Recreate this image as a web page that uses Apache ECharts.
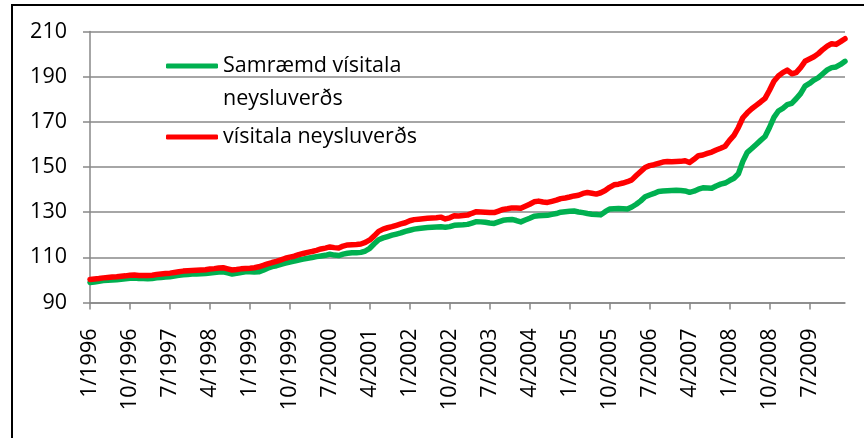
<!DOCTYPE html>
<html>
<head>
<meta charset="utf-8">
<title>Vísitala neysluverðs</title>
<script src="https://cdn.jsdelivr.net/npm/echarts@6.0.0/dist/echarts.min.js"></script>
<style>
  html, body { margin: 0; padding: 0; background: #fff; }
  #chart { width: 864px; height: 438px; }
</style>
</head>
<body>
<div id="chart"></div>
<script>
// mánaðarleg gögn 1/1996 - 3/2010
var startYear = 1996;
var endYear = 2010;
var endMonth = 3;

var seriesNames = ['Samræmd vísitala neysluverðs', 'vísitala neysluverðs'];

// Samræmd vísitala neysluverðs (grænt)
var hicp = [
  98.9, 99.1, 99.4, 99.7, 99.9, 100.0, 100.1, 100.3, 100.5, 100.7, 100.8, 100.6,
  100.6, 100.5, 100.6, 100.9, 101.1, 101.3, 101.4, 101.7, 102.0, 102.3, 102.4, 102.6,
  102.6, 102.7, 102.8, 103.1, 103.3, 103.5, 103.6, 103.1, 102.6, 102.9, 103.3, 103.6,
  103.6, 103.5, 103.6, 104.3, 105.2, 105.9, 106.3, 106.9, 107.4, 107.9, 108.3, 108.8,
  109.2, 109.6, 109.9, 110.3, 110.6, 110.9, 111.4, 111.0, 110.8, 111.4, 111.8, 112.0,
  112.0, 112.2, 112.8, 114.0, 116.0, 117.8, 118.6, 119.2, 119.8, 120.3, 120.8, 121.5,
  122.0, 122.5, 122.8, 123.0, 123.2, 123.3, 123.4, 123.5, 123.3, 123.6, 124.2, 124.3,
  124.4, 124.6, 125.2, 125.8, 125.7, 125.5, 125.2, 125.0, 125.7, 126.4, 126.6, 126.8,
  126.3, 125.7, 126.5, 127.3, 128.2, 128.4, 128.5, 128.6, 129.0, 129.4, 130.0, 130.2,
  130.4, 130.5, 130.1, 129.8, 129.4, 129.1, 129.0, 128.8, 130.2, 131.4, 131.5, 131.6,
  131.5, 131.4, 132.3, 133.5, 135.0, 136.8, 137.6, 138.3, 139.2, 139.4, 139.5, 139.6,
  139.7, 139.6, 139.4, 138.8, 139.3, 140.2, 140.8, 140.7, 140.6, 141.6, 142.4, 142.9,
  144.0, 145.0, 147.0, 152.5, 156.5, 158.2, 160.0, 161.8, 163.5, 167.5, 172.0, 174.8,
  176.0, 177.6, 178.2, 180.2, 182.5, 185.8, 187.0, 188.5, 189.6, 191.3, 193.0, 194.0,
  194.3, 195.4, 196.8
];

// vísitala neysluverðs (rautt)
var cpi = [
  100.2, 100.4, 100.6, 100.9, 101.1, 101.3, 101.4, 101.6, 101.8, 102.1, 102.2, 102.0,
  102.0, 102.0, 102.1, 102.4, 102.6, 102.8, 103.0, 103.3, 103.6, 103.9, 104.1, 104.2,
  104.3, 104.4, 104.5, 104.8, 105.0, 105.3, 105.4, 104.9, 104.4, 104.6, 104.9, 105.1,
  105.2, 105.4, 105.8, 106.4, 107.1, 107.7, 108.2, 108.9, 109.6, 110.1, 110.5, 111.2,
  111.7, 112.2, 112.6, 113.1, 113.7, 114.1, 114.6, 114.3, 114.1, 115.0, 115.5, 115.6,
  115.7, 115.9, 116.6, 117.7, 119.5, 121.5, 122.5, 123.1, 123.6, 124.2, 124.8, 125.3,
  126.2, 126.7, 126.9, 127.1, 127.3, 127.4, 127.5, 127.8, 127.0, 127.5, 128.4, 128.3,
  128.5, 128.7, 129.5, 130.2, 130.1, 130.0, 129.9, 129.8, 130.5, 131.2, 131.5, 131.9,
  131.8, 131.7, 132.6, 133.5, 134.6, 134.9, 134.5, 134.3, 134.8, 135.3, 136.0, 136.3,
  136.7, 137.2, 137.5, 138.3, 138.7, 138.4, 138.0, 138.6, 139.6, 141.0, 142.1, 142.4,
  142.9, 143.5, 144.3, 146.2, 148.0, 149.8, 150.6, 151.0, 151.6, 152.2, 152.4, 152.3,
  152.4, 152.5, 152.8, 152.0, 153.4, 155.0, 155.3, 156.0, 156.6, 157.5, 158.3, 159.2,
  161.8, 164.0, 167.5, 171.8, 174.0, 175.8, 177.3, 178.8, 180.4, 184.0, 188.0, 190.3,
  191.8, 192.9, 191.3, 191.8, 194.0, 196.8, 197.8, 198.8, 200.2, 202.0, 203.5, 204.6,
  204.3, 205.5, 206.8
];

// y-ás
var yMin = 90;
var yMax = 210;
var yStep = 20;

// flokkar: m/áááá
var months = [];
for (var y = startYear; y <= endYear; y++) {
  for (var m = 1; m <= 12; m++) {
    if (y === endYear && m > endMonth) break;
    months.push(m + '/' + y);
  }
}

var font = 'Open Sans';
var fontSize = 21.5;
var chart = echarts.init(document.getElementById('chart'), null, { renderer: 'canvas' });

var option = {
  backgroundColor: '#fff',
  animation: false,
  textStyle: { fontFamily: font },
  grid: {
    left: 90,
    right: 19,
    top: 31.5,
    bottom: 135.5,
    containLabel: false
  },
  // ramminn utan um myndina
  graphic: [{
    type: 'rect',
    shape: { x: 12, y: 5, width: 900, height: 500 },
    style: { fill: 'none', stroke: '#000', lineWidth: 2 },
    silent: true
  }],
  legend: {
    orient: 'vertical',
    left: 166,
    top: 16.5,
    padding: 0,
    itemGap: 5,
    itemWidth: 52,
    itemHeight: 5,
    icon: 'roundRect',
    selectedMode: false,
    textStyle: { fontFamily: font, fontSize: fontSize, color: '#000', lineHeight: 33 },
    // tóm fyrsta lína svo að línutáknið standi við fyrri textalínuna
    formatter: function (name) {
      if (name === seriesNames[0]) return '\nSamræmd vísitala\nneysluverðs';
      return name;
    },
    data: [seriesNames[0], seriesNames[1]]
  },
  xAxis: {
    type: 'category',
    data: months,
    boundaryGap: false,
    axisLine: { lineStyle: { color: '#888', width: 1.5 } },
    axisTick: {
      show: true,
      interval: 8,
      length: 7,
      lineStyle: { color: '#888', width: 1.5 }
    },
    axisLabel: {
      interval: 8,
      rotate: 90,
      margin: 26,
      fontFamily: font,
      fontSize: fontSize,
      color: '#000'
    },
    splitLine: { show: false }
  },
  yAxis: {
    type: 'value',
    min: yMin,
    max: yMax,
    interval: yStep,
    axisLine: { show: true, lineStyle: { color: '#888', width: 1.5 } },
    axisTick: { show: true, length: 7, lineStyle: { color: '#888', width: 1.5 } },
    axisLabel: {
      margin: 23,
      fontFamily: font,
      fontSize: fontSize,
      color: '#000'
    },
    splitLine: { lineStyle: { color: '#888', width: 1.5 } }
  },
  series: [
    {
      name: seriesNames[0],
      type: 'line',
      data: hicp,
      showSymbol: false,
      lineStyle: { color: '#00B050', width: 5.5, cap: 'round', join: 'round' },
      itemStyle: { color: '#00B050' }
    },
    {
      name: seriesNames[1],
      type: 'line',
      data: cpi,
      showSymbol: false,
      lineStyle: { color: '#FF0000', width: 5.5, cap: 'round', join: 'round' },
      itemStyle: { color: '#FF0000' }
    }
  ]
};

chart.setOption(option);
</script>
</body>
</html>
